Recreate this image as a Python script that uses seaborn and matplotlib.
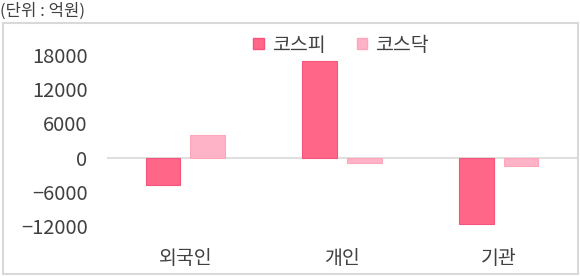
import matplotlib
matplotlib.use("Agg")
import matplotlib.pyplot as plt
import seaborn as sns
import pandas as pd
from matplotlib.patches import Rectangle, Patch

categories = ["외국인", "개인", "기관"]
series_names = ["코스피", "코스닥"]
kospi = [-4800, 16900, -11700]
kosdaq = [3900, -900, -1400]
yticks = [-12000, -6000, 0, 6000, 12000, 18000]
title_text = "(단위 : 억원)"

colors = {"코스피": "#FF6688", "코스닥": "#FFB3C6"}
edges = {"코스피": "#F5557C", "코스닥": "#FFA6BC"}

df = pd.DataFrame({
    "cat": categories * 2,
    "series": [series_names[0]] * 3 + [series_names[1]] * 3,
    "value": kospi + kosdaq,
})

sns.set_theme(style="white")
plt.rcParams["font.family"] = ["Noto Sans CJK KR", "DejaVu Sans"]

fig = plt.figure(figsize=(5.8, 2.76), dpi=100)
ax = fig.add_axes([107 / 580, 1 - 226 / 276, 470 / 580, (226 - 55) / 276])

sns.barplot(data=df, x="cat", y="value", hue="series", order=categories,
            hue_order=series_names, palette=colors, width=0.57, gap=0.22,
            ax=ax, legend=False, saturation=1)
for i, cont in enumerate(ax.containers):
    for p in cont:
        p.set_edgecolor(edges[series_names[i]])
        p.set_linewidth(0.8)

ax.axhline(0, color="#D9D9D9", lw=1.2, zorder=0)
ax.set_ylim(-12000, 18000)
ax.set_xlim(-0.5, 2.5)
ax.set_yticks(yticks)
ax.set_yticklabels([str(v).replace("-", "−") for v in yticks])
ax.set_xlabel("")
ax.set_ylabel("")
for s in ax.spines.values():
    s.set_visible(False)
ax.tick_params(axis="y", length=0, pad=14, labelsize=14.5, labelcolor="#404040")
ax.tick_params(axis="x", length=0, pad=16, labelsize=14, labelcolor="#404040")
ax.grid(False)

# outer frame
fig.patches.append(Rectangle((3 / 580, 1 - 274 / 276), 575 / 580, (274 - 22.5) / 276,
                             transform=fig.transFigure, fill=False,
                             edgecolor="#D9D9D9", lw=1.5))

handles = [Patch(facecolor=colors[s], edgecolor=edges[s]) for s in series_names]
fig.legend(handles, series_names, loc="center", bbox_to_anchor=(341 / 580, 1 - 45 / 276),
           ncol=2, frameon=False, fontsize=14, handlelength=0.55, handleheight=0.55,
           handletextpad=0.4, columnspacing=1.6, labelcolor="#404040")

fig.text(0.0, 1 - 11 / 276, title_text, ha="left", va="center", fontsize=12, color="#404040")

fig.savefig("out.png", dpi=100)
